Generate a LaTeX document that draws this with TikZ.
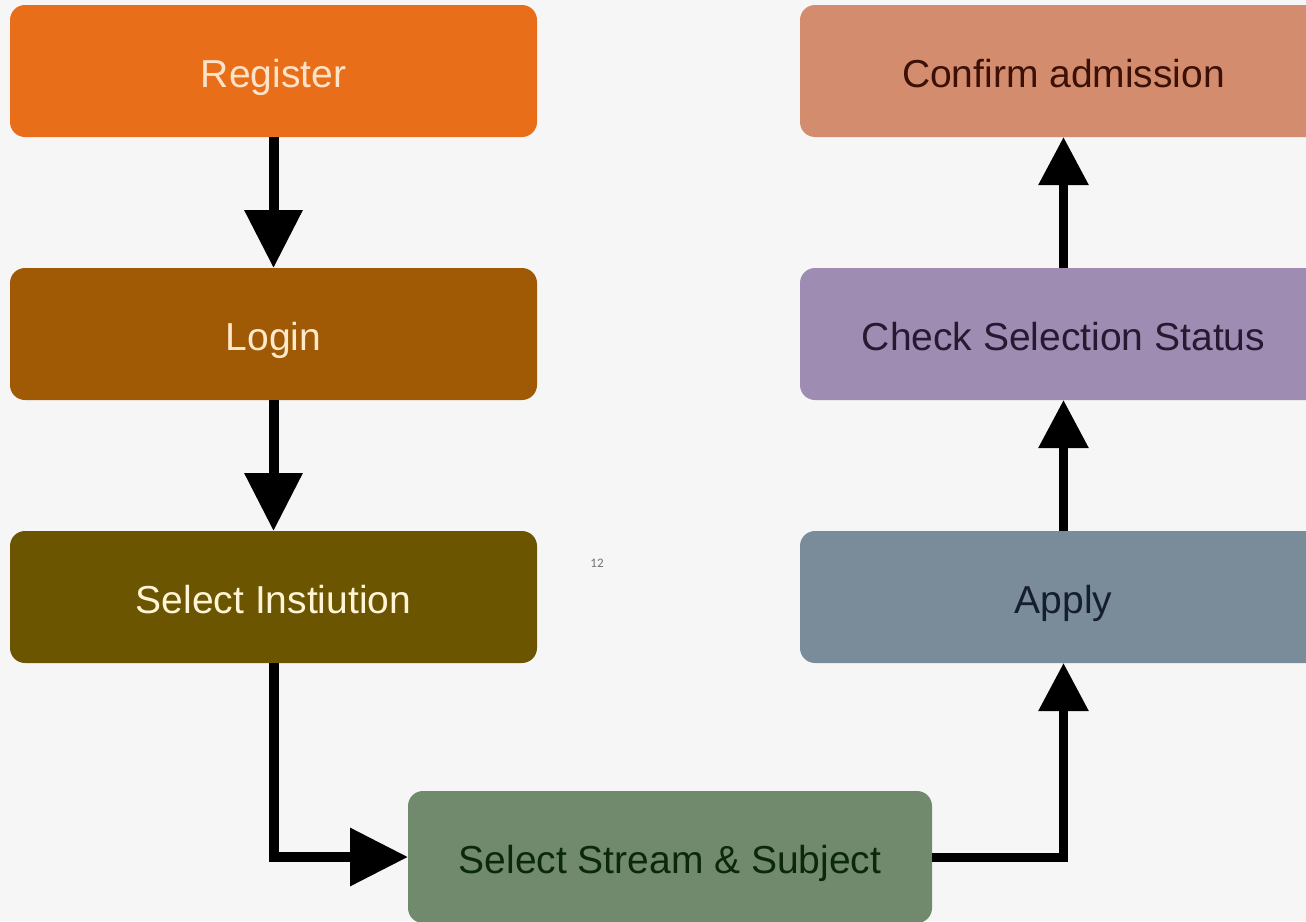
\documentclass[tikz,border=0pt]{standalone}
\usepackage{fontspec}
\setmainfont{Liberation Sans}
\newfontfamily\smallfont{Carlito}
\usetikzlibrary{arrows.meta}
\definecolor{bgc}{HTML}{F6F6F6}
\definecolor{regc}{HTML}{E86E19}
\definecolor{logc}{HTML}{A05A05}
\definecolor{instc}{HTML}{6B5500}
\definecolor{confc}{HTML}{D38C6E}
\definecolor{chkc}{HTML}{9E8CB2}
\definecolor{appc}{HTML}{7A8B99}
\definecolor{strc}{HTML}{71896C}
\definecolor{regt}{HTML}{FFE3C8}
\definecolor{logt}{HTML}{FFE8CC}
\definecolor{instt}{HTML}{FFF4D6}
\definecolor{conft}{HTML}{3C1005}
\definecolor{chkt}{HTML}{281932}
\definecolor{appt}{HTML}{141E2D}
\definecolor{strt}{HTML}{0A280A}
\tikzset{
  box/.style={rounded corners=15pt, inner sep=0pt, outer sep=0pt,
    minimum width=527pt, minimum height=132pt,
    text height=36pt, text depth=4pt,
    font=\fontsize{39}{39}\selectfont},
  bigarrow/.style={line width=10pt, draw=black,
    -{Triangle[length=58pt,width=56pt]}},
  smallarrow/.style={line width=9pt, draw=black,
    -{Triangle[length=48pt,width=48pt]}},
}
\begin{document}
\begin{tikzpicture}[x=1pt,y=-1pt]
\useasboundingbox (0,0) rectangle (1306,921);
\begin{scope}
\clip (0,0) rectangle (1306,921);
\fill[bgc] (0,0) rectangle (1306,921);
\node[box, fill=regc, text=regt] (reg) at (273.5,71) {Register};
\node[box, fill=logc, text=logt] (login) at (273.5,334) {Login};
\node[box, fill=instc, text=instt] (inst) at (273.5,597) {Select Instiution};
\node[box, fill=confc, text=conft] (conf) at (1063.5,71) {Confirm admission};
\node[box, fill=chkc, text=chkt] (chk) at (1063.5,334) {Check Selection Status};
\node[box, fill=appc, text=appt] (app) at (1063.5,597) {Apply};
\node[box, fill=strc, text=strt, minimum width=524pt, minimum height=132pt] (str) at (670,857) {Select Stream \& Subject};
\node[font=\smallfont\fontsize{13}{13}\selectfont, text=black!55] (pg) at (597,563) {12};

\draw[bigarrow] (reg) -- (login);
\draw[bigarrow] (login) -- (inst);
\draw[bigarrow] (inst.south) |- (str.west);
\draw[smallarrow] (str.east) -| (app.south);
\draw[smallarrow] (app) -- (chk);
\draw[smallarrow] (chk) -- (conf);
\end{scope}
\end{tikzpicture}
\end{document}
